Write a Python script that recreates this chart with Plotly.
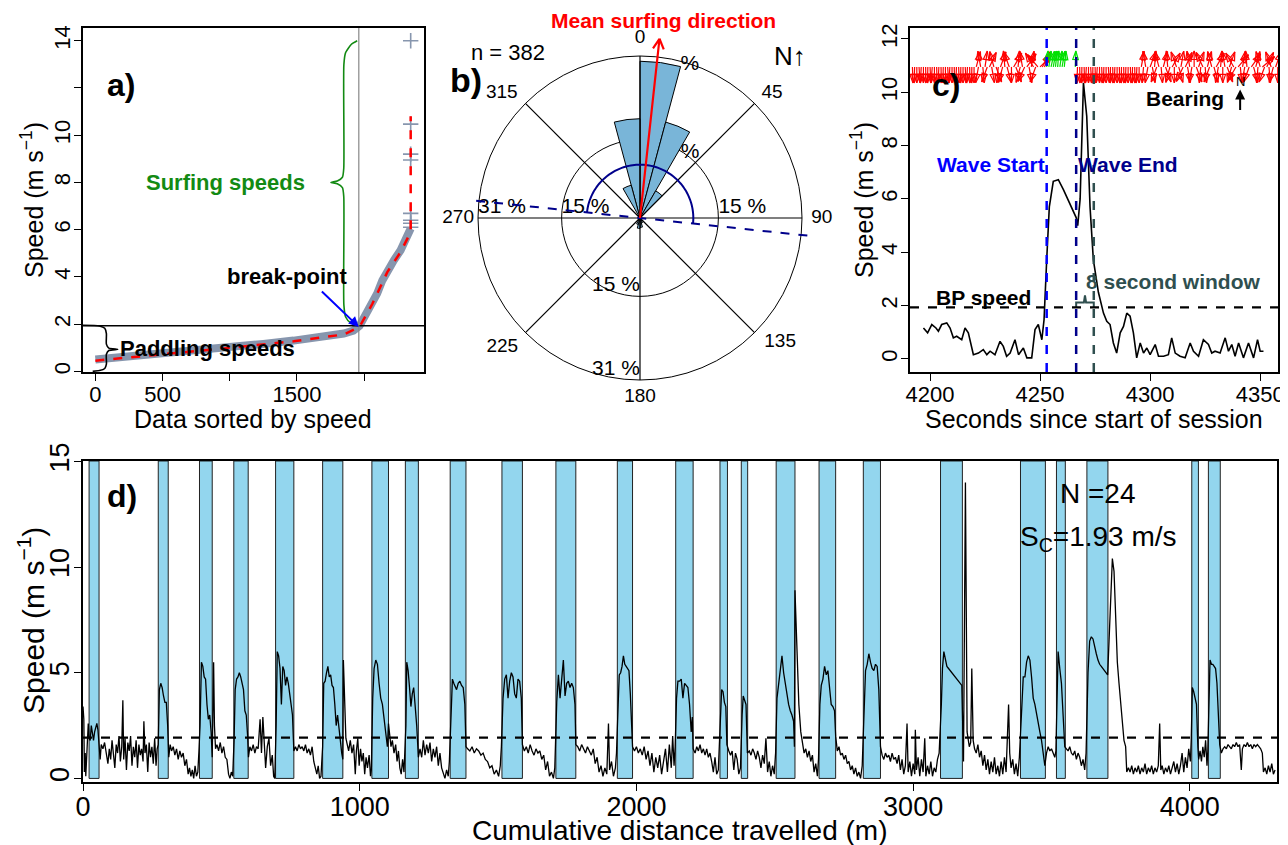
import math
import plotly.graph_objects as go

PAGE_W, PAGE_H = 1288, 845
OFF = 8                      # default body margin of the html page
W, H = PAGE_W - OFF, PAGE_H - OFF
FONT = "Liberation Sans, Arial, Helvetica, sans-serif"


def fx(px):
    return (px - OFF) / W


def fy(py):
    return 1 - (py - OFF) / H


# ---------------- panel a: sorted speeds ----------------
a_index = [0, 250, 480, 750, 978, 1250, 1475, 1700, 1848, 1920, 1965, 2022, 2060, 2097,
           2135, 2172, 2221, 2271, 2308, 2335, 2346]
a_speed = [0.5, 0.62, 0.74, 0.88, 1.01, 1.16, 1.3, 1.46, 1.6, 1.72, 1.92, 2.52, 2.9, 3.3,
           3.85, 4.28, 4.7, 5.13, 5.56, 5.8, 6.05]
a_fit_index = [0, 480, 978, 1475, 1848, 1965, 2060, 2172, 2271, 2346, 2346]
a_fit_speed = [0.45, 0.7, 0.98, 1.27, 1.56, 1.88, 2.85, 4.2, 5.05, 5.9, 10.8]
a_top_index = 2346
a_top_speeds = [6.1, 6.27, 6.4, 6.69, 8.95, 9.2, 10.47, 14.0]
a_break_index = 1960
a_break_speed = 1.93

# ---------------- panel b: rose diagram ----------------
b_bin_centre = [7.5, 22.5, 37.5, 352.5, 337.5, 142.5, 157.5, 172.5, 187.5, 202.5, 217.5]
b_bin_pct = [30.0, 19.0, 6.0, 19.0, 6.5, 0.5, 1.0, 1.8, 2.0, 1.3, 0.6]
b_bin_width = 15
b_n = 382
b_mean_dir = 6.2
b_mean_len = 34.5
b_wave_axis = 96
b_axis_len = 32.2
b_semi_r = 10.2
b_rings = [15, 31]
b_angle_ticks = [0, 45, 90, 135, 180, 225, 270, 315]
b_angle_label_theta = [0, 46.6, 90, 131.5, 180, 226.9, 270, 312]
b_angle_label_r = [34.4, 34.8, 34.8, 35.8, 34.3, 36.1, 34.8, 35.6]

# ---------------- panel c: one wave ----------------
c_time = [4197.0, 4198.9, 4200.8, 4202.7, 4203.8, 4205.3, 4207.6, 4209.1, 4210.6, 4212.1,
          4214.4, 4215.9, 4217.4, 4219.7, 4222.0, 4224.2, 4225.8, 4227.3, 4229.5, 4231.8,
          4233.3, 4234.8, 4236.4, 4238.6, 4240.2, 4242.4, 4244.0, 4246.2, 4247.7, 4249.2,
          4250.8, 4251.8, 4253.0, 4254.2, 4256.0, 4258.3, 4260.6, 4263.6, 4266.4, 4267.1,
          4268.2, 4269.7, 4271.2, 4272.7, 4274.2, 4276.5, 4278.8, 4280.3, 4281.8, 4283.3,
          4284.8, 4286.4, 4287.9, 4289.4, 4290.9, 4292.4, 4293.9, 4295.5, 4297.0, 4298.5,
          4300.0, 4302.3, 4303.8, 4306.1, 4308.3, 4309.8, 4311.4, 4313.6, 4315.9, 4318.2,
          4319.7, 4322.0, 4324.2, 4326.5, 4328.0, 4329.5, 4331.8, 4334.1, 4335.6, 4337.1,
          4338.6, 4340.2, 4342.4, 4344.7, 4347.0, 4348.8, 4350.0, 4351.5]
c_speed = [1.16, 0.98, 1.29, 1.16, 1.04, 1.29, 1.35, 1.16, 0.79, 0.85,
           0.72, 1.16, 0.98, 0.16, 0.22, 0.35, 0.16, 0.29, 0.16, 0.66,
           0.47, 0.10, 0.22, 0.72, 0.16, 0.41, 0.04, 0.04, 1.10, 1.29,
           0.72, 1.47, 3.70, 5.70, 6.66, 6.72, 6.35, 5.80, 5.30, 5.00,
           6.00, 10.35, 9.10, 5.70, 3.72, 2.50, 1.72, 1.41, 1.29, 0.60,
           0.22, 0.98, 1.22, 1.72, 1.60, 0.98, 0.04, 0.60, 0.22, 0.41,
           0.16, 0.54, 0.10, 0.10, 0.16, 0.79, 0.22, 0.10, 0.04, 0.60,
           0.29, 0.10, 0.72, 0.54, 0.22, 0.29, 0.22, 0.79, 0.29, 0.54,
           0.10, 0.60, 0.04, 0.60, 0.04, 0.72, 0.29, 0.29]
c_wave_start = 4253.0
c_wave_end = 4266.4
c_window_end = 4274.4
c_bp_speed = 1.93
c_bear_time = (list(range(4192, 4221)) + list(range(4221, 4253)) + list(range(4253, 4262))
               + [4266] + list(range(4267, 4296)) + list(range(4296, 4359)))
c_bear_deg = ([178, 182, 180, 176, 183, 180, 179, 181, 177, 184, 180, 178, 182, 179, 181,
               180, 176, 183, 180, 179, 182, 178, 181, 180, 177, 183, 179, 181, 180]
              + [15, 190, 350, 175, 8, 200, 25, 170, 345, 160, 185, 20, 195, 355, 165, 340,
                 180, 30, 160, 5, 195, 350, 205, 35, 170, 10, 330, 200, 320, 45, 30, 20]
              + [5, 8, 12, 10, 6, 4, 8, 10, 6]
              + [2]
              + [182, 179, 181, 178, 183, 180, 177, 181, 179, 184, 180, 178, 182, 180, 176,
                 181, 179, 183, 180, 178, 181, 179, 182, 180, 177, 181, 179, 183, 180]
              + [10, 185, 350, 190, 20, 170, 5, 200, 345, 175, 15, 160, 355, 195, 30, 180,
                 340, 165, 10, 205, 25, 170, 350, 190, 0, 160, 20, 185, 335, 175, 15, 200,
                 345, 165, 30, 190, 5, 180, 350, 160, 20, 195, 330, 210, 40, 175, 10, 190,
                 355, 200, 35, 165, 15, 185, 345, 50, 200, 25, 175, 340, 195, 20, 180])
c_bear_base = 10.95

# ---------------- panel d: whole session ----------------
d_dist = [
    0, 3, 5, 8, 10, 13, 16, 19, 22,
    26, 30, 34, 38, 42, 46, 50, 54, 58,
    62, 66, 72, 78, 84, 90, 95, 100, 105, 110, 115, 120, 125, 130, 135, 140, 144, 147, 152, 157, 162, 167, 172,
    177, 182, 187, 192, 197, 202, 207, 212, 217, 220, 224, 229, 234, 239, 244, 249, 254, 259, 264, 268,
    272, 276, 281, 286, 291, 296, 301, 306, 310,
    315, 320, 326, 332, 338, 344, 350, 356, 362, 368, 374, 380, 385, 390, 395, 400, 405, 410, 415, 419,
    423, 428, 433, 438, 443, 448, 453, 458, 463, 467, 470, 472, 475, 479,
    484, 490, 496, 502, 508, 514, 520, 526, 531, 536, 541,
    546, 550, 555, 560, 565, 570, 575, 580, 585, 590, 595, 598,
    603, 609, 615, 621, 627, 633, 640, 645, 650, 655, 660, 666, 672, 678, 684, 689, 693,
    698, 702, 707, 712, 717, 722, 727, 732, 737, 742, 747, 752, 757, 762,
    768, 774, 780, 786, 792, 798, 804, 810, 816, 822, 828, 834, 840, 845, 850, 855, 860,
    866, 870, 875, 880, 885, 890, 895, 900, 905, 910, 915, 920, 925, 930, 935, 939, 941, 945, 950,
    955, 960, 966, 972, 978, 984, 988, 993, 998, 1003, 1008, 1013, 1018, 1023, 1028, 1034, 1039, 1042,
    1047, 1052, 1058, 1064, 1070, 1076, 1082, 1088, 1094, 1100, 1104, 1108,
    1113, 1118, 1124, 1130, 1135, 1140, 1145, 1150, 1155, 1160,
    1167, 1170, 1175, 1180, 1185, 1190, 1195, 1200, 1206, 1212,
    1218, 1224, 1230, 1236, 1242, 1248, 1254, 1260, 1266, 1272, 1278, 1284, 1290, 1296, 1302, 1308, 1314, 1320, 1324,
    1330, 1335, 1340, 1345, 1350, 1356, 1362, 1368, 1374, 1380, 1384,
    1390, 1398, 1406, 1414, 1422, 1430, 1438, 1446, 1454, 1462, 1470, 1478, 1486, 1494, 1502, 1508, 1512,
    1518, 1524, 1530, 1536, 1542, 1548, 1554, 1560, 1566, 1572, 1578, 1584, 1588,
    1595, 1602, 1609, 1616, 1623, 1630, 1637, 1644, 1651, 1658, 1665, 1672, 1679, 1686, 1693, 1700, 1705,
    1712, 1718, 1724, 1730, 1736, 1742, 1748, 1754, 1760, 1766, 1772, 1778, 1781,
    1788, 1795, 1802, 1809, 1816, 1823, 1830, 1837, 1844, 1851, 1858, 1865, 1872, 1879, 1886, 1893, 1899, 1903, 1910, 1917, 1924, 1928,
    1934, 1938, 1943, 1948, 1953, 1958, 1963, 1968, 1973, 1978, 1983, 1986,
    1993, 2000, 2007, 2014, 2021, 2028, 2035, 2042, 2049, 2056, 2063, 2070, 2077, 2084, 2091, 2098, 2105, 2112, 2119, 2126, 2131, 2136, 2140,
    2145, 2150, 2156, 2162, 2168, 2174, 2180, 2186, 2192, 2198, 2202, 2205,
    2212, 2218, 2224, 2230, 2236, 2242, 2248, 2254, 2260, 2266, 2272, 2278, 2284, 2290, 2296,
    2304, 2308, 2313, 2318, 2323, 2327,
    2334, 2340, 2346, 2352, 2358, 2364, 2370, 2376,
    2382, 2386, 2391, 2396, 2401,
    2408, 2414, 2420, 2426, 2432, 2438, 2444, 2450, 2456, 2462, 2468, 2474, 2480, 2486, 2492, 2498, 2503,
    2508, 2514, 2520, 2526, 2532, 2538, 2544, 2550, 2556, 2562, 2568, 2571, 2573, 2580, 2587, 2594, 2600,
    2606, 2612, 2618, 2624, 2630, 2636, 2642, 2648, 2654, 2658,
    2663, 2668, 2674, 2680, 2686, 2692, 2698, 2704, 2710, 2716, 2720,
    2726, 2732, 2738, 2744, 2750, 2756, 2762, 2768, 2774, 2780, 2786, 2792, 2798, 2804, 2810, 2816,
    2823, 2828, 2834, 2840, 2846, 2852, 2858, 2864, 2870, 2876, 2882,
    2888, 2894, 2900, 2906, 2912, 2918, 2924, 2930, 2936, 2942, 2948, 2954, 2960, 2966, 2972, 2978, 2982, 2988,
    2994, 3000, 3006, 3008, 3012, 3018, 3024, 3030, 3036, 3042, 3046, 3052, 3058, 3064, 3070, 3076, 3082, 3088, 3094,
    3102, 3106, 3111, 3116, 3122, 3128, 3134, 3140, 3146, 3152, 3158, 3164, 3170, 3176, 3182, 3189, 3195, 3203, 3208, 3212, 3217, 3222,
    3228, 3234, 3240, 3246, 3252, 3258, 3264, 3270, 3276, 3282, 3288, 3294, 3300, 3306, 3312, 3318, 3324, 3330,
    3336, 3340, 3345, 3349, 3354, 3360, 3366, 3372, 3378, 3384,
    3392, 3398, 3404, 3410, 3416, 3422, 3428, 3434, 3440, 3446, 3452, 3458, 3464, 3470, 3476,
    3482, 3488, 3494, 3500, 3506, 3512, 3516,
    3520, 3524, 3530, 3536, 3542, 3548,
    3554, 3560, 3566, 3572, 3578, 3584, 3590, 3596, 3602, 3608, 3614, 3620, 3625,
    3632, 3638, 3644, 3650, 3656, 3662, 3668, 3674, 3680, 3686, 3692, 3698, 3703, 3708, 3714, 3720, 3726, 3732, 3738, 3744, 3750, 3756, 3762, 3768, 3772,
    3778, 3784, 3790, 3796, 3802, 3808, 3814, 3820, 3826, 3832, 3838, 3844, 3850, 3856, 3862, 3868, 3874, 3880, 3886, 3891,
    3895, 3900, 3906, 3912, 3918, 3924, 3930, 3936, 3942, 3948, 3954, 3960, 3966, 3972, 3978, 3984, 3990, 3996, 4002, 4005,
    4009, 4014, 4019, 4024, 4029, 4032,
    4037, 4042, 4047, 4052, 4057, 4062, 4065,
    4069, 4073, 4078, 4083, 4088, 4093, 4098, 4103, 4108,
    4114, 4120, 4126, 4132, 4138, 4144, 4150, 4156, 4162, 4168, 4174, 4180, 4186, 4190, 4196, 4202, 4208,
    4214, 4220, 4226, 4232, 4238, 4244, 4250, 4256, 4262, 4266, 4272, 4278, 4284, 4290, 4296, 4302, 4308,
]
d_speed = [
    3.4, 2.8, 0.3, 1.2, 0.1, 0.8, 1.7, 2.6, 1.9,
    1.8, 2.5, 2.0, 1.8, 2.2, 2.4, 2.6, 2.3, 1.3,
    0.9, 1.6, 1.4, 1.7, 1.2, 0.7, 1.4, 0.9, 1.8, 1.1, 0.5, 1.6, 1.2, 2.0, 0.8, 1.5, 3.7, 0.9, 1.9, 0.4, 1.7, 1.3, 2.0,
    0.6, 1.5, 1.0, 1.8, 0.5, 1.6, 1.1, 1.4, 0.8, 2.7, 1.2, 1.6, 0.3, 1.7, 1.0, 1.5, 0.7, 1.9, 0.6, 1.4,
    1.6, 4.2, 4.5, 4.3, 3.9, 3.6, 3.6, 2.5, 1.0,
    1.6, 1.3, 1.5, 1.1, 1.4, 0.9, 1.3, 1.0, 1.2, 0.6, 0.9, 0.2, 0.5, 0.1, 0.4, 0.0, 0.6, 0.1, 0.3, 1.3,
    2.5, 5.5, 5.3, 4.8, 4.7, 3.5, 2.8, 3.0, 2.2, 1.0, 3.0, 5.5, 2.5, 1.4,
    1.6, 1.3, 1.7, 1.2, 1.5, 1.0, 0.9, 0.2, 0.0, 0.3, 0.1,
    1.8, 4.2, 4.7, 4.8, 5.0, 4.8, 4.5, 4.2, 3.2, 3.0, 2.0, 1.0,
    1.5, 1.3, 1.6, 1.2, 1.5, 1.4, 2.8, 1.2, 2.9, 1.3, 0.5, 1.5, 1.9, 0.6, 1.1, 0.1, 0.0,
    2.5, 6.0, 5.8, 5.2, 3.5, 5.3, 5.1, 4.4, 4.8, 4.5, 4.0, 3.6, 3.0, 1.3,
    1.5, 1.3, 1.6, 1.4, 1.5, 1.3, 1.6, 1.2, 1.4, 1.1, 1.5, 0.8, 0.5, 0.2, 0.6, 0.0, 0.1,
    1.5, 4.5, 4.6, 5.0, 5.3, 4.8, 4.9, 4.4, 4.3, 3.5, 2.5, 3.0, 2.5, 1.8, 1.2, 0.9, 5.6, 3.5, 1.9,
    1.6, 1.3, 1.8, 1.2, 1.6, 0.2, 1.3, 1.9, 0.6, 1.4, 0.8, 1.2, 0.2, 1.0, 0.5, 1.1, 0.1, 0.4,
    3.8, 5.2, 5.6, 5.4, 4.5, 3.8, 3.5, 2.9, 2.3, 1.5, 2.6, 2.0,
    1.5, 1.8, 1.2, 1.6, 0.8, 1.3, 0.5, 0.2, 0.9, 0.3,
    2.5, 5.5, 5.1, 4.3, 3.4, 4.0, 4.3, 3.5, 2.5, 1.0,
    1.4, 1.0, 1.8, 1.1, 1.6, 1.2, 1.7, 0.8, 1.4, 1.0, 1.5, 0.6, 1.2, 0.5, 0.2, 0.0, 0.4, 0.1, 0.8,
    3.5, 4.7, 4.5, 4.3, 4.2, 4.5, 4.6, 4.4, 4.3, 3.5, 1.5,
    1.4, 1.3, 1.5, 1.2, 1.4, 1.3, 1.1, 1.2, 0.9, 0.8, 0.5, 0.6, 0.2, 0.4, 0.1, 0.6, 1.5,
    3.8, 4.7, 4.9, 3.8, 4.6, 5.0, 4.8, 4.0, 3.8, 4.7, 4.6, 3.8, 1.6,
    1.3, 1.5, 1.2, 1.6, 1.3, 1.1, 1.4, 1.2, 1.3, 0.9, 1.1, 0.4, 0.8, 0.1, 0.3, 0.0, 0.5,
    3.6, 4.9, 3.8, 4.7, 5.6, 3.9, 4.5, 4.6, 4.3, 4.5, 4.3, 3.5, 1.6,
    1.5, 1.3, 1.6, 1.4, 1.2, 1.5, 1.3, 1.1, 1.4, 0.7, 1.0, 0.3, 0.6, 0.1, 0.5, 0.2, 2.6, 0.4, 0.8, 0.1, 0.5, 1.2,
    3.5, 4.9, 5.0, 5.3, 5.8, 5.4, 5.3, 5.2, 5.1, 4.0, 2.5, 1.5,
    1.3, 1.5, 1.2, 1.4, 1.1, 1.5, 0.9, 1.3, 0.6, 1.2, 0.3, 1.0, 0.5, 1.1, 0.2, 0.8, 1.4, 0.3, 1.6, 0.5, 2.0, 0.6, 1.5,
    3.8, 4.6, 4.6, 4.7, 3.8, 4.5, 4.4, 4.3, 3.5, 2.2, 2.9, 1.4,
    1.2, 1.5, 1.3, 1.6, 1.2, 1.4, 1.1, 1.4, 1.0, 1.2, 0.8, 0.3, 1.0, 0.2, 0.4,
    2.5, 4.2, 4.1, 3.6, 3.4, 1.6,
    1.3, 1.1, 1.3, 0.4, 1.2, 0.9, 0.2, 0.5,
    3.0, 3.9, 3.7, 3.5, 1.2,
    1.3, 1.1, 1.4, 1.2, 0.9, 1.3, 1.0, 0.5, 1.1, 0.7, 1.9, 0.3, 0.8, 0.1, 0.6, 0.2, 1.2,
    3.8, 4.5, 4.9, 5.8, 5.0, 4.5, 3.8, 3.5, 3.2, 3.0, 2.7, 1.5, 8.9, 6.0, 3.5, 2.2, 1.6,
    1.2, 1.4, 1.0, 1.3, 0.8, 1.1, 0.3, 0.7, 0.1, 0.9,
    3.5, 4.4, 4.7, 5.3, 4.9, 5.1, 4.4, 3.5, 3.4, 3.2, 2.0,
    1.3, 1.5, 1.1, 1.2, 0.9, 1.1, 0.7, 0.8, 0.4, 0.6, 0.2, 0.5, 0.1, 0.3, 0.0, 0.6,
    3.5, 5.1, 5.4, 5.9, 5.5, 5.2, 5.1, 5.4, 5.3, 4.2, 1.5,
    1.1, 0.9, 1.2, 1.0, 1.1, 0.8, 1.2, 0.9, 1.0, 0.7, 1.1, 0.4, 0.9, 0.2, 0.6, 2.6, 0.3, 0.8,
    0.1, 0.7, 0.2, 2.3, 0.4, 1.0, 0.1, 0.9, 0.3, 1.9, 0.1, 0.6, 0.2, 0.8, 0.1, 0.5, 0.3, 0.9, 1.2,
    3.5, 5.2, 6.0, 5.6, 5.3, 5.2, 5.1, 5.0, 4.9, 4.8, 4.7, 4.6, 4.5, 4.4, 0.8, 14.0, 2.2, 1.5, 1.7, 5.2, 1.8, 1.4,
    1.2, 1.6, 1.0, 1.3, 0.6, 1.1, 0.4, 0.9, 0.2, 0.8, 0.3, 1.0, 0.2, 0.6, 0.1, 0.8, 0.2, 1.0,
    0.3, 1.5, 3.5, 1.2, 0.5, 0.9, 0.2, 0.7, 0.1, 1.0,
    3.5, 4.8, 4.8, 5.5, 5.8, 5.6, 4.8, 3.8, 3.5, 3.0, 2.5, 2.2, 1.8, 1.3, 0.6,
    1.2, 1.5, 1.3, 1.4, 1.2, 1.0, 1.3,
    4.0, 6.0, 5.2, 4.5, 3.0, 1.5,
    1.4, 1.3, 1.5, 1.2, 1.1, 1.3, 0.9, 1.2, 1.0, 0.6, 0.9, 0.4, 1.2,
    5.0, 6.5, 6.7, 6.6, 6.2, 5.9, 5.6, 5.4, 5.3, 5.2, 5.1, 5.0, 4.9, 6.5, 9.0, 10.4, 9.8, 7.5, 5.5, 4.5, 3.5, 2.5, 1.8, 1.5, 0.3,
    0.5, 0.3, 0.6, 0.2, 0.5, 0.3, 0.6, 0.2, 0.5, 0.3, 0.7, 0.2, 0.5, 0.3, 0.6, 0.2, 0.5, 0.3, 0.6, 2.6,
    0.4, 0.6, 0.2, 0.5, 0.3, 0.6, 0.2, 0.5, 0.8, 0.3, 0.7, 0.2, 0.6, 1.2, 0.3, 1.0, 0.5, 1.4, 0.8, 1.8,
    4.3, 4.1, 3.8, 3.5, 1.5, 0.9,
    1.3, 0.8, 1.5, 1.0, 1.8, 0.6, 1.3,
    3.5, 5.6, 5.4, 5.4, 5.3, 5.2, 4.5, 3.0, 1.6,
    1.2, 1.4, 1.5, 1.4, 1.6, 1.5, 1.4, 1.6, 1.5, 1.7, 1.5, 1.6, 0.4, 1.4, 1.6, 1.5, 1.7,
    1.5, 1.6, 1.4, 1.6, 1.5, 1.6, 1.5, 1.4, 1.2, 0.3, 0.5, 0.2, 0.6, 0.3, 0.7, 0.2, 0.4,
]
band_start = [22, 272, 421, 545, 696, 866, 1044, 1165, 1327, 1514, 1709, 1931,
              2142, 2302, 2379, 2505, 2660, 2820, 3099, 3388, 3518, 3628, 4007, 4067]
band_end = [58, 308, 467, 597, 762, 939, 1104, 1212, 1384, 1588, 1781, 1986,
            2205, 2329, 2402, 2573, 2720, 2882, 3178, 3478, 3550, 3704, 4031, 4110]
d_sc = 1.93

# ---------------- layout geometry (page pixels -> paper) ----------------
A_X = [fx(83), fx(424)]; A_Y = [fy(372), fy(28)]
C_X = [fx(910), fx(1278)]; C_Y = [fy(372), fy(28)]
D_X = [fx(83), fx(1277)]; D_Y = [fy(782), fy(461)]
B_CX, B_CY, B_R31 = 640, 218, 162          # rose centre and radius of the 31 % ring (page px)
B_RMAX = 37
B_RPX = B_R31 * B_RMAX / b_rings[-1]
P_X = [fx(B_CX - B_RPX), fx(B_CX + B_RPX)]; P_Y = [fy(B_CY + B_RPX), fy(B_CY - B_RPX)]
A_XR = [-92, 2445]; A_YR = [-0.03, 14.54]
C_XR = [4190.9, 4358.1]; C_YR = [-0.49, 12.41]
D_XR = [0, 4315]; D_YR = [-0.17, 15.02]

fig = go.Figure()

# ---- panel a ----
fig.add_trace(go.Scatter(x=a_index, y=a_speed, mode="lines", xaxis="x", yaxis="y",
                         line=dict(color="#8796ae", width=8)))
fig.add_trace(go.Scatter(x=[a_top_index] * len(a_top_speeds), y=a_top_speeds, mode="markers",
                         xaxis="x", yaxis="y",
                         marker=dict(symbol="cross-thin", size=11,
                                     line=dict(width=1.6, color="#8796ae"))))
fig.add_trace(go.Scatter(x=a_fit_index, y=a_fit_speed, mode="lines", xaxis="x", yaxis="y",
                         line=dict(color="red", width=2.5, dash="dash")))
fig.add_trace(go.Scatter(x=[1948, 1905, 1862, 1849, 1848, 1838, 1800, 1752, 1800, 1838, 1848, 1849, 1862, 1900, 1960],
                         y=[14.0, 13.85, 13.5, 13.0, 8.6, 8.22, 8.06, 8.0, 7.94, 7.78, 7.4, 2.8, 2.3, 2.05, 1.95],
                         mode="lines", xaxis="x", yaxis="y", line=dict(color="#138a13", width=1.6, shape="spline", smoothing=0.6)))
fig.add_trace(go.Scatter(x=[-92, 30, 70, 82, 82, 100, 167, 100, 82, 82, 70, 30, -20],
                         y=[1.95, 1.92, 1.82, 1.6, 1.15, 0.98, 0.93, 0.88, 0.72, 0.3, 0.12, 0.03, 0.0],
                         mode="lines", xaxis="x", yaxis="y", line=dict(color="black", width=1.6, shape="spline", smoothing=0.6)))

# ---- panel b ----
spoke_r, spoke_t = [], []
for ang in b_angle_ticks:
    spoke_r += [0, b_rings[-1], None]
    spoke_t += [ang, ang, None]
fig.add_trace(go.Scatterpolar(r=spoke_r, theta=spoke_t, mode="lines", subplot="polar",
                              line=dict(color="black", width=1.2), connectgaps=False))
fig.add_trace(go.Scatterpolar(r=[15, 15, 31, 15, 31], theta=[90, 270, 270, 180, 180],
                              text=["15 %", "15 %", "31 %", "15 %", "31 %"], mode="text",
                              textposition=["top right", "top right", "top right", "top left", "top left"],
                              textfont=dict(size=21, color="black", family=FONT), subplot="polar"))
fig.add_trace(go.Scatterpolar(r=[30.9, 15.7], theta=[18.0, 37.6], text=["%", "%"], mode="text",
                              textposition="middle center",
                              textfont=dict(size=21, color="black", family=FONT), subplot="polar"))
fig.add_trace(go.Barpolar(r=b_bin_pct, theta=b_bin_centre, width=[b_bin_width] * len(b_bin_pct),
                          subplot="polar",
                          marker=dict(color="#79b5d8", line=dict(color="black", width=1))))
fig.add_trace(go.Scatterpolar(r=b_angle_label_r, theta=b_angle_label_theta,
                              text=[str(v) for v in b_angle_ticks], mode="text",
                              textposition="middle center",
                              textfont=dict(size=19, color="black", family=FONT), subplot="polar"))
semi_theta = list(range(b_wave_axis + 180, b_wave_axis + 361, 2))
fig.add_trace(go.Scatterpolar(r=[b_semi_r] * len(semi_theta), theta=semi_theta, mode="lines",
                              line=dict(color="#00008b", width=2), subplot="polar"))
fig.add_trace(go.Scatterpolar(r=[b_axis_len, 0, b_axis_len], theta=[b_wave_axis, b_wave_axis, b_wave_axis + 180],
                              mode="lines", line=dict(color="#00008b", width=2, dash="dash"),
                              subplot="polar"))


def _barb(tip_r, tip_t, hl, off):
    tx, ty = tip_r * math.sin(math.radians(tip_t)), tip_r * math.cos(math.radians(tip_t))
    a = math.radians(tip_t + 180 + off)
    bx, by = tx + hl * math.sin(a), ty + hl * math.cos(a)
    return math.hypot(bx, by), math.degrees(math.atan2(bx, by))


b1 = _barb(b_mean_len, b_mean_dir, 2.2, 28)
b2 = _barb(b_mean_len, b_mean_dir, 2.2, -28)
fig.add_trace(go.Scatterpolar(r=[0, b_mean_len, b1[0], None, b_mean_len, b2[0]],
                              theta=[b_mean_dir, b_mean_dir, b1[1], None, b_mean_dir, b2[1]],
                              mode="lines", line=dict(color="red", width=2.2), connectgaps=False,
                              subplot="polar"))

# ---- panel c ----
fig.add_trace(go.Scatter(x=c_time, y=c_speed, mode="lines", xaxis="x2", yaxis="y2",
                         line=dict(color="black", width=1.6)))
fig.add_trace(go.Scatter(x=[c_wave_end, c_wave_end, 4269.9, 4270.4, 4270.9, c_window_end, c_window_end],
                         y=[c_bp_speed, 2.12, 2.12, 2.38, 2.12, 2.12, c_bp_speed], mode="lines",
                         xaxis="x2", yaxis="y2", line=dict(color="#2f4f4f", width=2)))
px_s = (C_X[1] - C_X[0]) * W / (C_XR[1] - C_XR[0])
px_v = (C_Y[1] - C_Y[0]) * H / (C_YR[1] - C_YR[0])
ARROW_PX = 16
for colour, on_wave in (("red", False), ("#00e000", True)):
    sx, sy, hx, hy, ha = [], [], [], [], []
    for t, b in zip(c_bear_time, c_bear_deg):
        if (c_wave_start <= t <= c_wave_end) != on_wave:
            continue
        x1 = t + ARROW_PX * math.sin(math.radians(b)) / px_s
        y1 = c_bear_base + ARROW_PX * math.cos(math.radians(b)) / px_v
        sx += [t, x1, None]; sy += [c_bear_base, y1, None]
        hx.append(x1); hy.append(y1); ha.append(b)
    fig.add_trace(go.Scatter(x=sx, y=sy, mode="lines", xaxis="x2", yaxis="y2",
                             line=dict(color=colour, width=1.2), connectgaps=False))
    fig.add_trace(go.Scatter(x=hx, y=hy, mode="markers", xaxis="x2", yaxis="y2",
                             marker=dict(symbol="arrow-open", size=9, angle=ha, color=colour,
                                         line=dict(color=colour, width=1.2))))

# ---- panel d ----
fig.add_trace(go.Scatter(x=d_dist, y=d_speed, mode="lines", xaxis="x3", yaxis="y3",
                         line=dict(color="black", width=1.3)))


def axis_style(dom, rng, anchor, size, standoff, **kw):
    d = dict(domain=dom, range=rng, anchor=anchor, showline=True, linecolor="black", linewidth=1.5,
             mirror=True, ticks="outside", ticklen=7, tickwidth=1.3, tickcolor="black",
             showgrid=False, zeroline=False, automargin=False, ticklabelstandoff=standoff,
             tickfont=dict(size=size, color="black", family=FONT))
    d.update(kw)
    return d


layout = dict(
    width=W, height=H, margin=dict(l=0, r=0, t=0, b=0, pad=0, autoexpand=False), showlegend=False,
    paper_bgcolor="white", plot_bgcolor="white", font=dict(family=FONT, color="black"),
    xaxis=axis_style(A_X, A_XR, "y", 22, -5, tickvals=[0, 500, 1000, 1500, 2000],
                     ticktext=["0", "500", " ", "1500", " "]),
    yaxis=axis_style(A_Y, A_YR, "x", 22, -5, tickvals=[0, 2, 4, 6, 8, 10, 12, 14],
                     ticktext=["0", "2", "4", "6", "8", "10", " ", "14"], tickangle=-90),
    xaxis2=axis_style(C_X, C_XR, "y2", 22, -5, tickvals=[4200, 4250, 4300, 4350]),
    yaxis2=axis_style(C_Y, C_YR, "x2", 22, -5, tickvals=[0, 2, 4, 6, 8, 10, 12], tickangle=-90),
    xaxis3=axis_style(D_X, D_XR, "y3", 27, -7, tickvals=[0, 1000, 2000, 3000, 4000]),
    yaxis3=axis_style(D_Y, D_YR, "x3", 27, -6, tickvals=[0, 5, 10, 15], tickangle=-90),
    polar=dict(
        domain=dict(x=P_X, y=P_Y), bgcolor="rgba(0,0,0,0)",
        radialaxis=dict(range=[0, B_RMAX], tickvals=b_rings, showticklabels=False, ticks="",
                        showline=False, gridcolor="black", gridwidth=1.3),
        angularaxis=dict(rotation=90, direction="clockwise", showticklabels=False, ticks="",
                         showline=False, showgrid=False),
    ),
)

shapes = [
    dict(type="line", xref="x domain", yref="y", x0=0, x1=1, y0=a_break_speed, y1=a_break_speed,
         line=dict(color="black", width=1.5)),
    dict(type="line", xref="x", yref="y domain", x0=a_break_index, x1=a_break_index, y0=0, y1=1,
         line=dict(color="#888888", width=1.2)),
    dict(type="line", xref="x2 domain", yref="y2", x0=0, x1=1, y0=c_bp_speed, y1=c_bp_speed,
         line=dict(color="black", width=2.2, dash="dash")),
    dict(type="line", xref="x2", yref="y2 domain", x0=c_wave_start, x1=c_wave_start, y0=0, y1=1,
         line=dict(color="#0000ff", width=2.5, dash="dash")),
    dict(type="line", xref="x2", yref="y2 domain", x0=c_wave_end, x1=c_wave_end, y0=0, y1=1,
         line=dict(color="#00008b", width=2.5, dash="dash")),
    dict(type="line", xref="x2", yref="y2 domain", x0=c_window_end, x1=c_window_end, y0=0, y1=1,
         line=dict(color="#2f4f4f", width=2.5, dash="dash")),
]
for s, e in zip(band_start, band_end):
    shapes.append(dict(type="rect", xref="x3", yref="y3", x0=s, x1=e, y0=0, y1=D_YR[1],
                       fillcolor="#93d6ee", line=dict(color="#222222", width=1), layer="below"))
shapes.append(dict(type="line", xref="x3 domain", yref="y3", x0=0, x1=1, y0=d_sc, y1=d_sc,
                   line=dict(color="black", width=2.2, dash="dash")))
layout["shapes"] = shapes


def ptxt(text, px, py, size, color="black", xanchor="center", yanchor="middle", angle=0):
    return dict(text=text, x=fx(px), y=fy(py), xref="paper", yref="paper", showarrow=False,
                xanchor=xanchor, yanchor=yanchor, textangle=angle,
                font=dict(size=size, color=color, family=FONT))


def dtxt(text, x, y, xr, yr, size, color="black", xanchor="center"):
    return dict(text=text, x=x, y=y, xref=xr, yref=yr, showarrow=False, xanchor=xanchor,
                yanchor="middle", font=dict(size=size, color=color, family=FONT))


ann = [
    ptxt("Speed (m s<sup>−1</sup>)", 32, 200, 25, angle=-90),
    ptxt("Data sorted by speed", 253, 419, 25),
    ptxt("Speed (m s<sup>−1</sup>)", 862, 200, 25, angle=-90),
    ptxt("Seconds since start of session", 1094, 419, 25),
    ptxt("Speed (m s<sup>−1</sup>)", 31, 621, 30, angle=-90),
    ptxt("Cumulative distance travelled (m)", 680, 830, 28),
    ptxt("<b>a)</b>", 121, 85, 32),
    ptxt("<b>b)</b>", 466, 80, 34),
    ptxt("<b>c)</b>", 946, 85, 32),
    ptxt("<b>d)</b>", 122, 496, 32),
    dtxt("<b>Surfing speeds</b>", 965, 8.0, "x", "y", 22, color="#138a13"),
    dtxt("<b>break-point</b>", 1425, 4.0, "x", "y", 22),
    dtxt("<b>Paddling speeds</b>", 165, 0.96, "x", "y", 22, xanchor="left"),
    dict(x=a_break_index, y=1.88, ax=1674, ay=3.44, xref="x", yref="y", axref="x", ayref="y",
         showarrow=True, arrowhead=2, arrowsize=1, arrowwidth=2, arrowcolor="blue", text=""),
    ptxt("<b>Mean surfing direction</b>", 663, 20, 21, color="red"),
    ptxt(f"n = {b_n}", 508, 53, 22),
    ptxt("N↑", 790, 56, 26),
    dtxt("<b>Wave Start</b>", c_wave_start, 7.3, "x2", "y2", 21, color="#0000ff", xanchor="right"),
    dtxt("<b>Wave End</b>", c_wave_end, 7.3, "x2", "y2", 21, color="#00008b", xanchor="left"),
    dtxt("<b>8 second window</b>", 4310.8, 2.91, "x2", "y2", 21, color="#2f4f4f"),
    dtxt("<b>BP speed</b>", 4224.5, 2.31, "x2", "y2", 21),
    dtxt("<b>Bearing</b>", 4315.9, 9.75, "x2", "y2", 21),
    dict(x=4340.9, y=10.1, ax=4340.9, ay=9.28, xref="x2", yref="y2", axref="x2", ayref="y2",
         showarrow=True, arrowhead=2, arrowsize=1, arrowwidth=2, arrowcolor="black", text=""),
    dtxt("N", 4340.9, 10.4, "x2", "y2", 13),
    ptxt("N =24", 1098, 493, 28),
    ptxt(f"S<sub>C</sub>={d_sc} m/s", 1098, 538, 28),
]
layout["annotations"] = ann

fig.update_layout(**layout)
fig.write_html("out.html")
